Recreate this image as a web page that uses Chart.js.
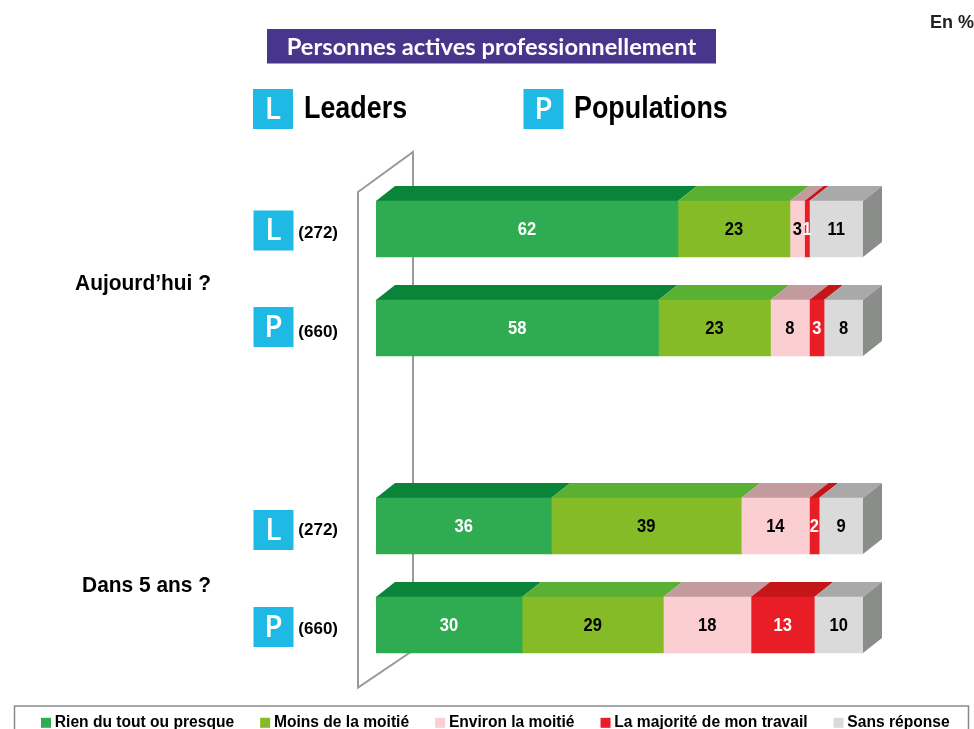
<!DOCTYPE html>
<html lang="fr"><head><meta charset="utf-8">
<script src="https://cdn.jsdelivr.net/npm/chart.js@4/dist/chart.umd.min.js"></script>
<style>html,body{margin:0;padding:0;background:#fff;overflow:hidden}#w{width:974px;height:729px;position:relative}</style>
</head><body><div id="w"><canvas id="c" width="974" height="729"></canvas></div>
<script>
const sampleSizes = ['(272)', '(660)', '', '(272)', '(660)'];
const badges = ['L', 'P', '', 'L', 'P'];
const seriesNames = ['Rien du tout ou presque', 'Moins de la moitié', 'Environ la moitié', 'La majorité de mon travail', 'Sans réponse'];
const rienDuTout = [62, 58, null, 36, 30];
const moinsMoitie = [23, 23, null, 39, 29];
const environMoitie = [3, 8, null, 14, 18];
const majorite = [1, 3, null, 2, 13];
const sansReponse = [11, 8, null, 9, 10];
const faceColors = ['#2FAB52', '#84BB26', '#FBCFD2', '#E91D25', '#DADADA'];
const topColors = ['#0A8439', '#5AB033', '#C39A9D', '#C41518', '#A9A9A9'];
const labelColors = ['#fff', '#000', '#000', '#fff', '#000'];
const sideColor = '#8B8D8B';
const wallColor = '#9A9A9A';
const badgeColor = '#1FB9E6';
const titleText = 'Personnes actives professionnellement';
const unitText = 'En %';
const groupNames = ['Aujourd’hui ?', 'Dans 5 ans ?'];
const keyNames = ['Leaders', 'Populations'];
const allValues = [rienDuTout, moinsMoitie, environMoitie, majorite, sansReponse];

const DX = 19, DY = 15;
function txt(ctx, s, x, y, font, color, align, sx) {
  ctx.save();
  ctx.font = font; ctx.fillStyle = color; ctx.textAlign = align || 'center'; ctx.textBaseline = 'middle';
  ctx.translate(x, y); ctx.scale(sx || 1, 1); ctx.fillText(s, 0, 0);
  ctx.restore();
}
function badge(ctx, letter, cx, cy, size) {
  ctx.fillStyle = badgeColor;
  ctx.fillRect(cx - size / 2, cy - size / 2, size, size);
  txt(ctx, letter, cx, cy + 1, '600 30px "Open Sans"', '#fff');
}
function poly(ctx, pts, fill) {
  ctx.beginPath();
  pts.forEach((p, i) => i ? ctx.lineTo(p[0], p[1]) : ctx.moveTo(p[0], p[1]));
  ctx.closePath(); ctx.fillStyle = fill; ctx.fill();
}
const relief = {
  id: 'relief',
  beforeLayout(chart) {
    const l = chart.legend;
    if (!l._flat) { const f = l.fit; l.fit = function () { this.maxWidth = 1200; f.call(this); this.height = 0; this.width = 974; }; l._flat = true; }
  },
  afterLayout(chart) { const l = chart.legend; l.left = 15; l.right = 1200; l.top = 685; l.bottom = 729; },
  beforeDatasetsDraw(chart) {
    const ctx = chart.ctx, a = chart.chartArea;
    // panel behind the bars
    ctx.save();
    ctx.strokeStyle = wallColor; ctx.lineWidth = 2; ctx.lineJoin = 'miter';
    ctx.beginPath();
    ctx.moveTo(a.left + 37, a.bottom - 24);
    ctx.lineTo(a.left - 18, a.bottom + 13);
    ctx.lineTo(a.left - 18, a.top + 12.5);
    ctx.lineTo(a.left + 37, a.top - 27.5);
    ctx.closePath();
    ctx.stroke();
    ctx.restore();
    // top and side faces
    chart.data.datasets.forEach((ds, d) => {
      chart.getDatasetMeta(d).data.forEach((el, i) => {
        if (ds.data[i] == null) return;
        const t = el.y - el.height / 2, b = el.y + el.height / 2;
        poly(ctx, [[el.base, t], [el.x, t], [el.x + DX, t - DY], [el.base + DX, t - DY]], topColors[d]);
        if (d === chart.data.datasets.length - 1)
          poly(ctx, [[el.x, t], [el.x + DX, t - DY], [el.x + DX, b - DY], [el.x, b]], sideColor);
      });
    });
  },
  afterDatasetsDraw(chart) {
    const ctx = chart.ctx, y = chart.scales.y;
    chart.data.datasets.forEach((ds, d) => {
      chart.getDatasetMeta(d).data.forEach((el, i) => {
        if (ds.data[i] == null) return;
        txt(ctx, String(ds.data[i]), (el.x + el.base) / 2, el.y + 1, 'bold 19px "Liberation Sans"', labelColors[d], 'center', 0.87);
      });
    });
    const shift = [1.5, -1, null, 4, 2];
    badges.forEach((b, i) => { if (b) badge(ctx, b, 273.5, y.getPixelForValue(i) + shift[i], 40); });
    txt(ctx, groupNames[0], 143, (y.getPixelForValue(0) + y.getPixelForValue(1)) / 2 + 5, 'bold 22px "Liberation Sans"', '#000', 'center', 0.95);
    txt(ctx, groupNames[1], 146.5, (y.getPixelForValue(3) + y.getPixelForValue(4)) / 2 + 10, 'bold 22px "Liberation Sans"', '#000', 'center', 0.95);
    // banner
    ctx.fillStyle = '#48358C'; ctx.fillRect(267, 29, 449, 34.5);
    txt(ctx, titleText, 491.5, 47, 'bold 23.7px Lato', '#fff');
    txt(ctx, unitText, 930, 23, 'bold 18px "Liberation Sans"', '#222', 'left');
    // key
    badge(ctx, 'L', 273, 109, 40);
    txt(ctx, keyNames[0], 304, 109, 'bold 32px "Liberation Sans"', '#000', 'left', 0.84);
    badge(ctx, 'P', 543.5, 109, 40);
    txt(ctx, keyNames[1], 574, 109, 'bold 32px "Liberation Sans"', '#000', 'left', 0.84);
    // legend frame
    ctx.strokeStyle = '#8a8a8a'; ctx.lineWidth = 1.5;
    ctx.strokeRect(14.5, 706, 954, 30);
  }
};
new Chart(document.getElementById('c'), {
  type: 'bar',
  data: {
    labels: sampleSizes,
    datasets: seriesNames.map((n, i) => ({
      label: n, data: allValues[i], backgroundColor: faceColors[i], borderWidth: 0,
      barThickness: 56, categoryPercentage: 1
    }))
  },
  plugins: [relief],
  options: {
    indexAxis: 'y', responsive: false, animation: false,
    layout: { padding: { left: 0, right: 111, top: 179.5, bottom: 54.5 } },
    scales: {
      x: { stacked: true, min: 0, max: 100, display: false },
      y: {
        stacked: true,
        grid: { display: false, drawTicks: false }, border: { display: false },
        ticks: {
          color: '#000', padding: 38, autoSkip: false,
          font: { family: '"Liberation Sans"', weight: 'bold', size: 17, lineHeight: 0.53 },
          callback(v) { const s = this.getLabelForValue(v); return s ? ['', s] : ''; }
        },
        afterFit(s) { s.width = 376; }
      }
    },
    plugins: {
      tooltip: { enabled: false },
      title: { display: false },
      legend: {
        position: 'bottom', align: 'start',
        labels: {
          usePointStyle: true, pointStyle: 'rect', boxWidth: 2, boxHeight: 10, padding: 30, color: '#000',
          font: { family: '"Liberation Sans"', weight: 'bold', size: 15.6 }
        }
      }
    }
  }
});
</script></body></html>
